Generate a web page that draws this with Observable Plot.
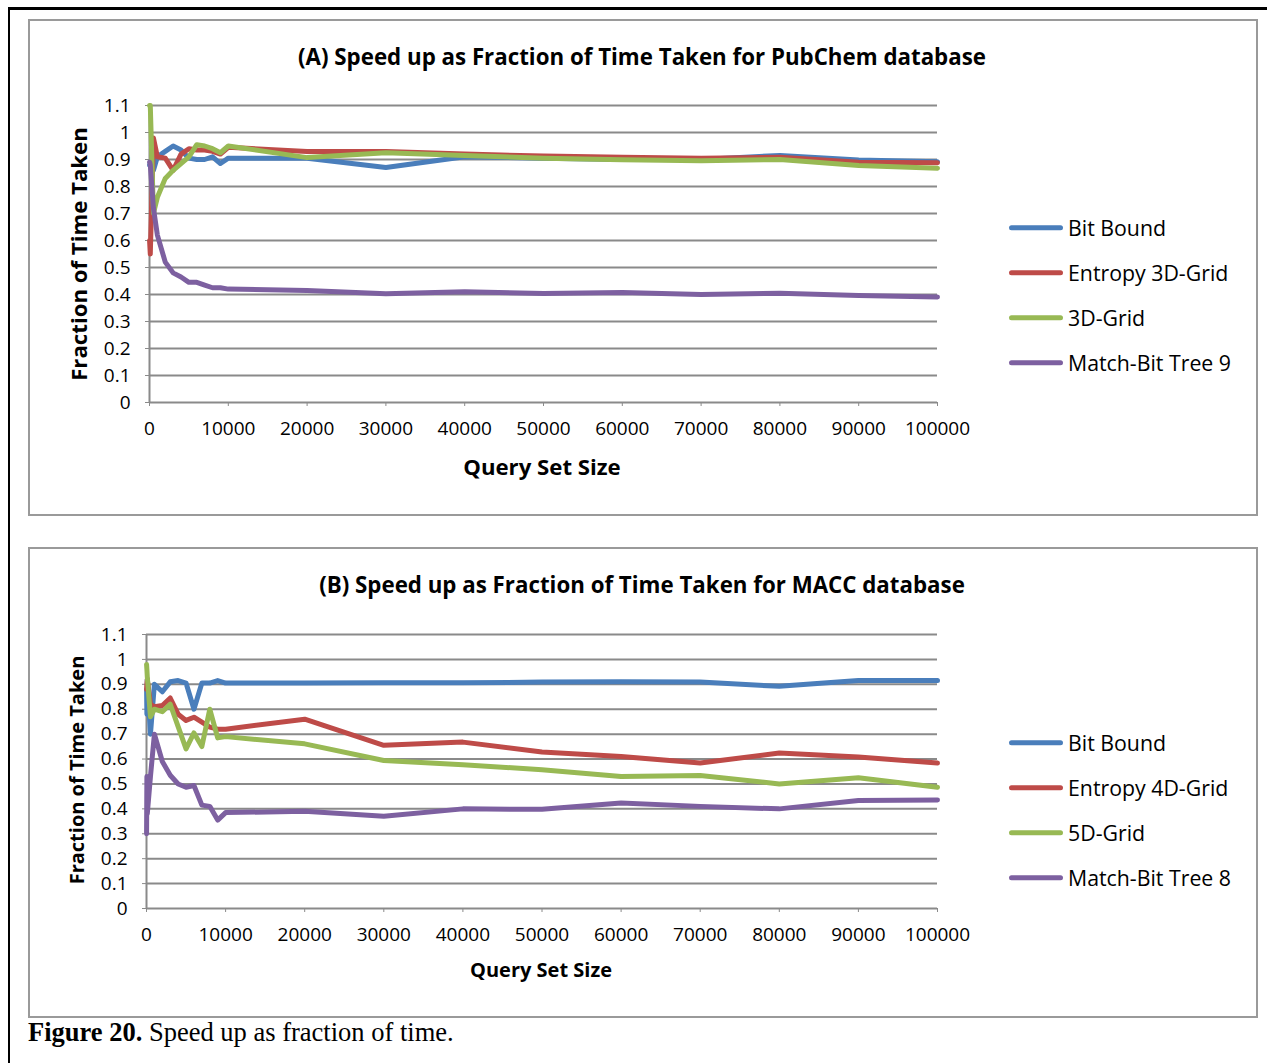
<!DOCTYPE html>
<html><head><meta charset="utf-8">
<script src="https://cdn.jsdelivr.net/npm/d3@7"></script>
<script src="https://cdn.jsdelivr.net/npm/@observablehq/plot@0.6"></script>
<style>
body{margin:0;background:#fff;}
#page{position:relative;width:1267px;height:1063px;overflow:hidden;font-family:"Open Sans",sans-serif;color:#000;}
.abs{position:absolute;white-space:nowrap;line-height:1;}
.c{transform:translate(-50%,-50%);}
.box{position:absolute;border:2px solid #9a9a9a;box-sizing:border-box;}
.title{font-weight:bold;font-size:22.3px;}
.axt{font-weight:bold;}
.leg{position:absolute;display:flex;align-items:center;font-size:21.3px;transform:translateY(-50%);line-height:1;}
.leg span.sw{display:inline-block;width:54px;height:5px;border-radius:3px;margin-right:5px;}
.cap{font-family:"Liberation Serif","Times New Roman",serif;font-size:26.5px;}
svg{position:absolute;left:0;overflow:visible;}
</style>
</head><body>
<div id="page"></div>
<script>
// ---------- data ----------
const xTicks = [0,10000,20000,30000,40000,50000,60000,70000,80000,90000,100000];
const yTicks = [0,0.1,0.2,0.3,0.4,0.5,0.6,0.7,0.8,0.9,1,1.1];
const yTickLabels = ["0","0.1","0.2","0.3","0.4","0.5","0.6","0.7","0.8","0.9","1","1.1"];

// Panel A: PubChem
const xA = [10,100,500,1000,2000,3000,4000,5000,6000,7000,8000,9000,10000,20000,30000,40000,50000,60000,70000,80000,90000,100000];
const namesA = ["Bit Bound","Entropy 3D-Grid","3D-Grid","Match-Bit Tree 9"];
const bitBoundA = [0.88,0.88,0.86,0.91,0.93,0.95,0.935,0.905,0.9,0.9,0.91,0.885,0.905,0.905,0.87,0.91,0.905,0.9,0.9,0.915,0.898,0.892];
const entropyA  = [0.6,0.55,0.98,0.91,0.905,0.86,0.92,0.94,0.935,0.935,0.93,0.92,0.945,0.93,0.93,0.92,0.913,0.908,0.905,0.908,0.89,0.888];
const gridA     = [1.1,1.1,0.70,0.76,0.83,0.86,0.885,0.91,0.955,0.95,0.94,0.925,0.95,0.907,0.925,0.915,0.905,0.899,0.895,0.9,0.878,0.868];
const mbtA      = [0.89,0.88,0.72,0.62,0.52,0.48,0.465,0.445,0.445,0.435,0.425,0.425,0.42,0.415,0.403,0.41,0.404,0.407,0.4,0.405,0.396,0.391];

// Panel B: MACC
const xB = [10,50,100,500,1000,2000,3000,4000,5000,6000,7000,8000,9000,10000,20000,30000,40000,50000,60000,70000,80000,90000,100000];
const namesB = ["Bit Bound","Entropy 4D-Grid","5D-Grid","Match-Bit Tree 8"];
const bitBoundB = [0.88,0.78,0.92,0.70,0.90,0.87,0.91,0.915,0.905,0.80,0.905,0.905,0.915,0.905,0.905,0.906,0.906,0.909,0.91,0.909,0.892,0.915,0.915];
const entropyB  = [0.88,0.90,0.92,0.82,0.81,0.815,0.845,0.78,0.755,0.768,0.748,0.728,0.72,0.72,0.76,0.655,0.668,0.628,0.61,0.584,0.624,0.608,0.584];
const gridB     = [0.98,0.96,0.93,0.77,0.80,0.79,0.82,0.73,0.641,0.705,0.65,0.80,0.685,0.69,0.661,0.594,0.577,0.557,0.53,0.534,0.50,0.525,0.487];
const mbtB      = [0.30,0.53,0.38,0.53,0.70,0.59,0.535,0.50,0.487,0.494,0.415,0.41,0.355,0.385,0.39,0.37,0.40,0.398,0.424,0.41,0.40,0.434,0.436];

const colors = ["#4A7EBB","#BE4B48","#98B954","#7D60A0"];
const gridColor = "#8a8a8a";

// ---------- helpers ----------
const page = document.getElementById("page");
function el(tag, cls, style, text){
  const e = document.createElement(tag);
  if (cls) e.className = cls;
  Object.assign(e.style, style||{});
  if (text!=null) e.textContent = text;
  page.appendChild(e);
  return e;
}
function toRows(xs, names, series){
  const rows = [];
  names.forEach((n,i)=> xs.forEach((x,j)=> rows.push({series:n, x, y:series[i][j]})));
  return rows;
}
function chart(rows, names, o){
  const svg = Plot.plot({
    width: 1000, height: o.height,
    marginLeft: o.left, marginRight: 1000-937, marginTop: o.top, marginBottom: o.height-o.top-o.plotH,
    style: {fontFamily:"'Open Sans', sans-serif", fontSize:"19px", color:"#000", background:"transparent", overflow:"visible"},
    x: {domain:[0,100000]},
    y: {domain:[0,1.1]},
    color: {domain:names, range:colors},
    marks: [
      Plot.ruleY(yTicks, {stroke:gridColor, strokeWidth:2}),
      Plot.ruleX([0], {stroke:gridColor, strokeWidth:2}),
      Plot.axisX({ticks:xTicks, tickFormat:d=>String(d), tickSize:4, tickPadding:15, stroke:gridColor, label:null}),
      Plot.axisY({ticks:yTicks, tickFormat:(d,i)=>yTickLabels[i], tickSize:4, tickPadding:15, stroke:gridColor, label:null}),
      Plot.line(rows, {x:"x", y:"y", z:"series", stroke:"series", strokeWidth:5, strokeLinejoin:"round", strokeLinecap:"round", curve:"linear"})
    ]
  });
  svg.style.top = o.svgTop + "px";
  page.appendChild(svg);
}

// ---------- frame ----------
el("div", null, {position:"absolute", left:"8px", top:"7px", width:"1259px", height:"3px", background:"#000"});
el("div", null, {position:"absolute", left:"8px", top:"7px", width:"2px", height:"1056px", background:"#000"});
el("div", "box", {left:"28px", top:"19px", width:"1230px", height:"497px"});
el("div", "box", {left:"28px", top:"547px", width:"1230px", height:"471px"});

// ---------- panel A ----------
chart(toRows(xA, namesA, [bitBoundA, entropyA, gridA, mbtA]), namesA,
  {svgTop:85, top:20, plotH:297, height:412, left:149});
el("div","abs c title",{left:"642px", top:"57px"},"(A) Speed up as Fraction of Time Taken for PubChem database");
el("div","abs c axt",{left:"542px", top:"467px", fontSize:"22.2px"},"Query Set Size");
el("div","abs c axt",{left:"79px", top:"254px", fontSize:"22.2px", transform:"translate(-50%,-50%) rotate(-90deg)"},"Fraction of Time Taken");
const legYA = [228,273,318,363];
namesA.forEach((n,i)=>{
  const d = el("div","leg",{left:"1009px", top:legYA[i]+"px"});
  const s = document.createElement("span"); s.className="sw"; s.style.background=colors[i]; d.appendChild(s);
  d.appendChild(document.createTextNode(n));
});

// ---------- panel B ----------
chart(toRows(xB, namesB, [bitBoundB, entropyB, gridB, mbtB]), namesB,
  {svgTop:615, top:19, plotH:274, height:388, left:146});
el("div","abs c title",{left:"642px", top:"585px"},"(B) Speed up as Fraction of Time Taken for MACC database");
el("div","abs c axt",{left:"541px", top:"970px", fontSize:"20px"},"Query Set Size");
el("div","abs c axt",{left:"77px", top:"770px", fontSize:"20px", transform:"translate(-50%,-50%) rotate(-90deg)"},"Fraction of Time Taken");
const legYB = [743,788,833,878];
namesB.forEach((n,i)=>{
  const d = el("div","leg",{left:"1009px", top:legYB[i]+"px"});
  const s = document.createElement("span"); s.className="sw"; s.style.background=colors[i]; d.appendChild(s);
  d.appendChild(document.createTextNode(n));
});

// ---------- caption ----------
const cap = el("div","abs cap",{left:"28px", top:"1019px"});
const b = document.createElement("b"); b.textContent = "Figure 20."; cap.appendChild(b);
cap.appendChild(document.createTextNode(" Speed up as fraction of time."));
</script>
</body></html>
